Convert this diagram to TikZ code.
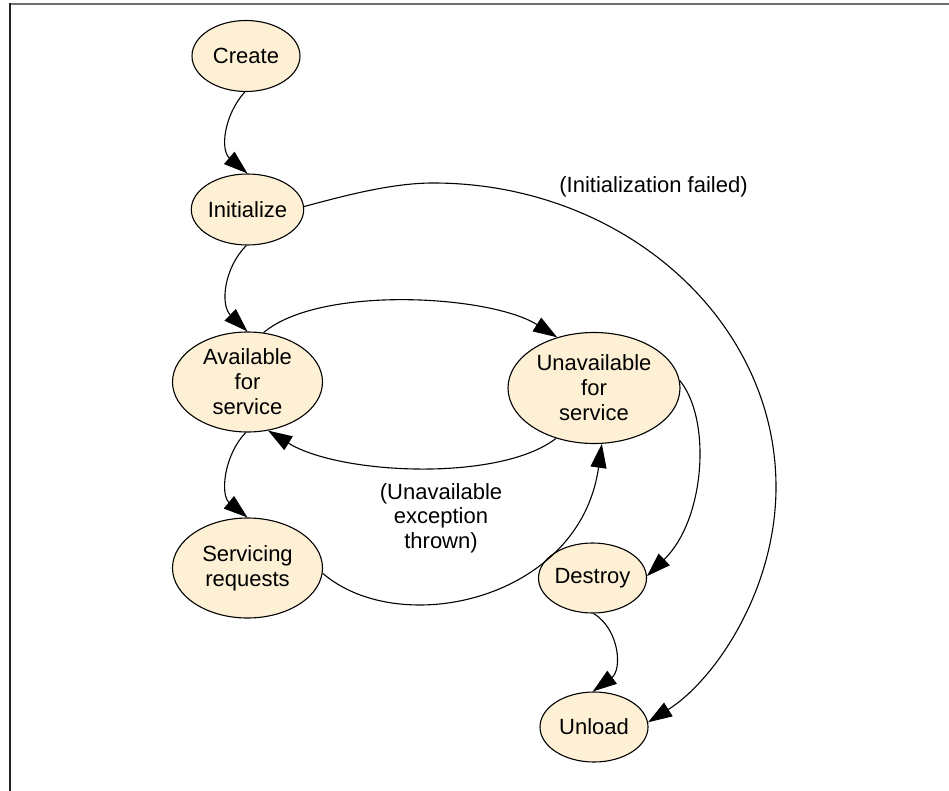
\documentclass[tikz,border=0pt]{standalone}
\usepackage{fontspec}
\setmainfont{Liberation Sans}
\usetikzlibrary{shapes.geometric,arrows.meta}
\definecolor{statefill}{RGB}{253,240,212}
\definecolor{topline}{RGB}{110,110,110}
\definecolor{leftline}{RGB}{35,35,35}
\begin{document}
\begin{tikzpicture}[x=1pt,y=1pt,
  state/.style={ellipse, draw=black, line width=1.1pt, fill=statefill, inner sep=0pt, align=center,
    font=\fontsize{22}{25}\selectfont},
  lbl/.style={align=center, inner sep=0pt, font=\fontsize{22}{24.5}\selectfont},
  arr/.style={line width=1.1pt, -{Triangle[length=24pt,width=16pt]}}]
\useasboundingbox (0,0) rectangle (949,-791);
\draw[topline, line width=2pt] (9,-4.5) -- (949,-4.5);
\draw[leftline, line width=2pt] (9.5,-3.5) -- (9.5,-791);

\node[state, minimum width=108pt, minimum height=71pt] (create) at (246,-56) {Create};
\node[state, minimum width=109pt, minimum height=71pt] (init) at (247.5,-209.5) {Initialize};
\node[state, minimum width=150pt, minimum height=100pt] (avail) at (247.5,-382) {Available\\for\\service};
\node[state, minimum width=172pt, minimum height=111pt] (unavail) at (594,-388) {Unavailable\\for\\service};
\node[state, minimum width=150pt, minimum height=100pt] (serv) at (247.5,-568) {Servicing\\requests};
\node[state, minimum width=108pt, minimum height=70pt] (destroy) at (592.5,-578) {Destroy};
\node[state, minimum width=108pt, minimum height=70pt] (unload) at (594,-727) {Unload};

\node[lbl] (failed) at (653.5,-187) {(Initialization failed)};
\node[lbl] (exc) at (441,-518) {(Unavailable\\exception\\thrown)};

\draw[arr] (create.-92) .. controls (224,-115) and (220,-150) .. (init.90);
\draw[arr] (init.-92) .. controls (224,-268) and (220,-305) .. (avail.90);
\draw[arr] (avail.72) .. controls (320,-285) and (490,-295) .. (unavail.126);
\draw[arr] (unavail.233) .. controls (500,-482) and (340,-475) .. (avail.-67);
\draw[arr] (avail.-92) .. controls (224,-455) and (220,-495) .. (serv.90);
\draw[arr] (serv.-4) .. controls (400,-640) and (580,-600) .. (unavail.-82);
\draw[arr] (unavail.5) .. controls (712,-420) and (705,-520) .. (destroy.2);
\draw[arr] (destroy.-88) .. controls (620,-630) and (622,-670) .. (unload.92);
\draw[arr] (init.3) .. controls (340,-197) and (390,-183) .. (433,-183)
  .. controls (622,-183) and (776,-319) .. (776,-487)
  .. controls (776,-590) and (715,-680) .. (unload.5);
\end{tikzpicture}
\end{document}
